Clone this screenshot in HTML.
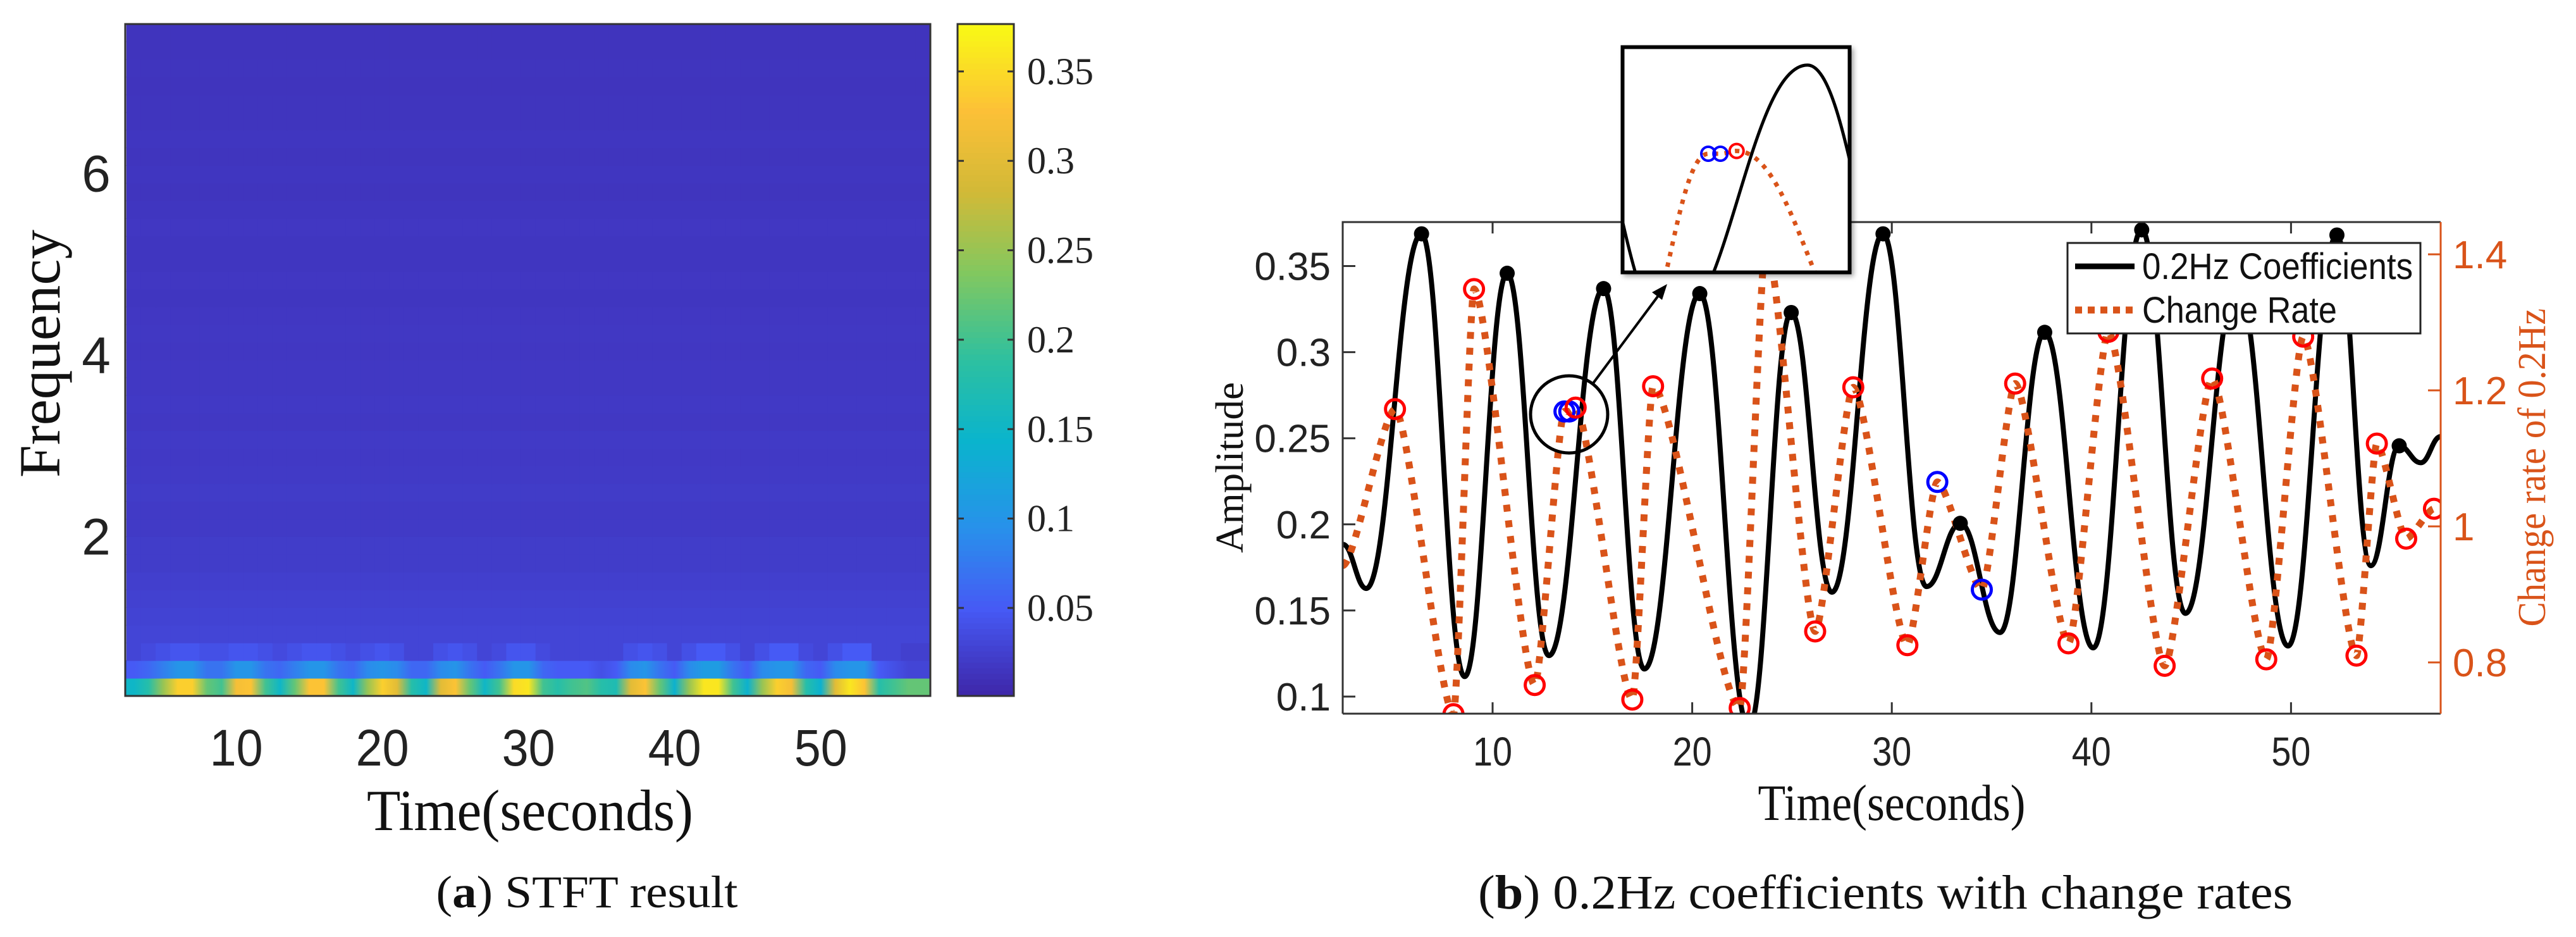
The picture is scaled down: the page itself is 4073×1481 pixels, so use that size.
<!DOCTYPE html>
<html><head><meta charset="utf-8">
<style>
html,body{margin:0;padding:0;background:#fff;}
svg{display:block;}
</style></head>
<body>
<svg id="fig" xmlns="http://www.w3.org/2000/svg" width="4073" height="1481" viewBox="0 0 4073 1481">
<defs id="defs">
<clipPath id="clipL"><rect x="198" y="38" width="1273" height="1062"/></clipPath>
<clipPath id="clipR"><rect x="2123" y="351" width="1736" height="777"/></clipPath>
<clipPath id="clipI"><rect x="2566" y="75" width="358" height="355"/></clipPath>
<filter id="shadow" x="-10%" y="-10%" width="130%" height="130%"><feDropShadow dx="4" dy="4" stdDeviation="4" flood-opacity="0.35"/></filter>
</defs>
<g id="left"></g>
<g id="right"></g>
</svg>
<script>
// ---------- Left chart data ----------
const times = [3,4,5,6,7,8,9,10,11,12,13,14,15,16,17,18,19,20,21,22,23,24,25,26,27,28,29,30,31,32,33,34,35,36,37,38,39,40,41,42,43,44,45,46,47,48,49,50,51,52,53,54,55,56,57];
const row0 = [0.15,0.18,0.25,0.34,0.34,0.22,0.2,0.32,0.33,0.2,0.15,0.22,0.33,0.33,0.2,0.15,0.25,0.34,0.3,0.18,0.15,0.3,0.33,0.22,0.15,0.2,0.35,0.36,0.2,0.18,0.2,0.21,0.18,0.17,0.3,0.33,0.22,0.14,0.25,0.36,0.36,0.2,0.14,0.25,0.34,0.32,0.18,0.14,0.3,0.36,0.33,0.18,0.2,0.22,0.22];
const row1 = [0.05,0.06,0.08,0.1,0.1,0.07,0.07,0.1,0.1,0.07,0.06,0.08,0.1,0.1,0.07,0.06,0.09,0.1,0.09,0.06,0.06,0.09,0.1,0.07,0.05,0.07,0.1,0.1,0.06,0.05,0.05,0.05,0.04,0.05,0.09,0.1,0.07,0.05,0.09,0.11,0.11,0.07,0.05,0.09,0.1,0.1,0.06,0.05,0.09,0.1,0.1,0.05,0.04,0.03,0.03];
const row2 = [0.03,0.035,0.04,0.045,0.045,0.04,0.04,0.045,0.045,0.04,0.035,0.04,0.045,0.045,0.04,0.035,0.04,0.045,0.04,0.03,0.03,0.04,0.045,0.04,0.03,0.035,0.045,0.045,0.035,0.03,0.03,0.03,0.03,0.03,0.04,0.045,0.04,0.03,0.04,0.05,0.05,0.04,0.03,0.04,0.05,0.05,0.035,0.03,0.04,0.05,0.05,0.03,0.03,0.025,0.025];
const rowBase = [0.03,0.028,0.026,0.024,0.022,0.022,0.02,0.02,0.021,0.02,0.019,0.02,0.018,0.019,0.018,0.018,0.017,0.018,0.017,0.016,0.017,0.016,0.016,0.017,0.016,0.015,0.016,0.015,0.016,0.015,0.015,0.014,0.015,0.014,0.014];
const freqTicks = [2,4,6];
const timeTicksL = [10,20,30,40,50];
const cbTicks = [0.05,0.1,0.15,0.2,0.25,0.3,0.35];
const cbTickLabels = ['0.05','0.1','0.15','0.2','0.25','0.3','0.35'];

// ---------- Right chart data ----------
const coefT = [2.5,3.67,6.44,8.6,10.73,12.82,15.56,17.6,20.38,22.84,24.96,27.0,29.56,31.74,33.43,35.42,37.66,40.09,42.52,44.71,47.3,49.85,52.3,54.0,55.42,56.5,57.5];
const coefV = [0.1884,0.1628,0.3687,0.1116,0.3458,0.1238,0.3369,0.116,0.334,0.082,0.323,0.1606,0.3687,0.1639,0.2006,0.1372,0.3115,0.1283,0.371,0.1483,0.34,0.1294,0.368,0.176,0.2456,0.2358,0.251];
const peakT = [6.44,10.73,15.56,20.38,24.96,29.56,33.43,37.66,42.52,52.3,55.42];
const peakV = [0.3687,0.3458,0.3369,0.334,0.323,0.3687,0.2006,0.3115,0.371,0.368,0.2456];
const rateT = [2.5,5.11,8.04,9.07,12.11,13.6,13.84,14.16,17.0,18.04,22.38,23.7,26.16,28.07,30.78,32.28,34.51,36.18,38.85,40.85,43.67,46.05,48.76,50.61,53.28,54.3,55.77,57.16];
const rateV = [0.9425,1.1724,0.724,1.349,0.7668,1.169,1.169,1.1747,0.7454,1.206,0.733,1.42,0.8456,1.2045,0.8253,1.0653,0.907,1.21,0.828,1.286,0.795,1.2175,0.8045,1.279,0.81,1.1217,0.982,1.0259];
const rateMark = ['none','red','red','red','red','blue','blue','red','red','red','red','red','red','red','red','blue','blue','red','red','red','red','red','red','red','red','red','red','red'];
const timeTicksR = [10,20,30,40,50];
const ampTicks = [0.1,0.15,0.2,0.25,0.3,0.35];
const ampTickLabels = ['0.1','0.15','0.2','0.25','0.3','0.35'];
const rateTicks = [0.8,1.0,1.2,1.4];
const rateTickLabels = ['0.8','1','1.2','1.4'];

const NS='http://www.w3.org/2000/svg';
function mk(tag, attrs, parent){const e=document.createElementNS(NS,tag);for(const k in attrs)e.setAttribute(k,attrs[k]);if(parent)parent.appendChild(e);return e;}

const stops=[[0,62,38,168],[0.13,70,90,245],[0.25,40,145,235],[0.38,10,180,205],[0.5,45,192,160],[0.63,130,200,95],[0.75,210,185,55],[0.87,252,192,55],[1,249,250,20]];
function parula(u){u=Math.max(0,Math.min(1,u));for(let i=1;i<stops.length;i++){if(u<=stops[i][0]){const a=stops[i-1],b=stops[i];const f=(u-a[0])/(b[0]-a[0]);return 'rgb('+Math.round(a[1]+f*(b[1]-a[1]))+','+Math.round(a[2]+f*(b[2]-a[2]))+','+Math.round(a[3]+f*(b[3]-a[3]))+')';}}return 'rgb(249,250,20)';}
const cMin=0.0008,cMax=0.3765;
const cmap=v=>parula((v-cMin)/(cMax-cMin));

// ---------- Left chart ----------
const L=document.getElementById('left');
const defs=document.getElementById('defs');
const xL=t=>198+(t-2.4)/(57.5-2.4)*1273;
const yF=f=>1100-(f-0.24)/(7.64-0.24)*1062;
const nRows=38, rowH=1062/nRows;
const hm=mk('g',{'clip-path':'url(#clipL)'},L);


const allRows=[row0,row1,row2];
for(let r=0;r<nRows;r++){
  if(r<2){
    // smooth shading along time for the low-frequency bands
    const gid='grad'+r;
    const gr=mk('linearGradient',{id:gid,gradientUnits:'userSpaceOnUse',x1:198,x2:1471,y1:0,y2:0},defs);
    times.forEach((t,c)=>{
      mk('stop',{offset:((xL(t)-198)/1273).toFixed(4),'stop-color':cmap(allRows[r][c])},gr);
    });
    const band=mk('rect',{x:198,y:1100-(r+1)*rowH-0.5,width:1273,height:rowH+1,fill:'url(#'+gid+')'},hm);
    
    
    continue;
  }
  for(let c=0;c<times.length;c++){
    const v = r<3 ? allRows[r][c] : rowBase[r-3];
    const x0=xL(times[c]-0.5)-0.5, x1=xL(times[c]+0.5)+0.5;
    const cell=mk('rect',{x:x0,y:1100-(r+1)*rowH-0.5,width:x1-x0,height:rowH+1,fill:cmap(v)},hm);
    
    
  }
}
const lb=mk('rect',{x:198,y:38,width:1273,height:1062,fill:'none',stroke:'#333',"stroke-width":3},L);


freqTicks.forEach(f=>{
  const t=mk('text',{x:152,y:yF(f)+29,'font-family':'Liberation Sans, sans-serif','font-size':82,'text-anchor':'middle',fill:'#222'},L);
  t.textContent=String(f);
  
  
});
timeTicksL.forEach(s=>{
  const t=mk('text',{x:xL(s),y:1210,'font-family':'Liberation Sans, sans-serif','font-size':82,'text-anchor':'middle',textLength:84,lengthAdjust:'spacingAndGlyphs',fill:'#222'},L);
  t.textContent=String(s);
  
  
});
let tt=mk('text',{x:0,y:0,transform:'translate(94,559) rotate(-90)','font-family':'Liberation Serif, serif','font-size':92,'text-anchor':'middle',textLength:392,lengthAdjust:'spacingAndGlyphs',fill:'#111'},L);
tt.textContent='Frequency';


tt=mk('text',{x:838,y:1312,'font-family':'Liberation Serif, serif','font-size':92,'text-anchor':'middle',textLength:516,lengthAdjust:'spacingAndGlyphs',fill:'#111'},L);
tt.textContent='Time(seconds)';


const cb=mk('g',{},L);


const cbY=v=>1100-(v-cMin)/(cMax-cMin)*1062;
for(let i=0;i<120;i++){
  const v0=cMin+(cMax-cMin)*i/120, v1=cMin+(cMax-cMin)*(i+1)/120;
  mk('rect',{x:1514,y:cbY(v1)-0.5,width:89,height:cbY(v0)-cbY(v1)+1,fill:cmap((v0+v1)/2)},cb);
}
mk('rect',{x:1514,y:38,width:89,height:1062,fill:'none',stroke:'#333','stroke-width':3},cb);
cbTicks.forEach((v,i)=>{
  mk('line',{x1:1514,x2:1524,y1:cbY(v),y2:cbY(v),stroke:'#333','stroke-width':3},cb);
  mk('line',{x1:1593,x2:1603,y1:cbY(v),y2:cbY(v),stroke:'#333','stroke-width':3},cb);
  const t=mk('text',{x:1624,y:cbY(v)+20,'font-family':'Liberation Serif, serif','font-size':60,fill:'#222'},cb);
  t.textContent=cbTickLabels[i];
  
  
});
tt=mk('text',{x:928,y:1434,'font-family':'Liberation Serif, serif','font-size':72,'text-anchor':'middle',textLength:477,lengthAdjust:'spacingAndGlyphs',fill:'#111'},L);
tt.innerHTML='(<tspan font-weight="bold">a</tspan>) STFT result';



// ---------- Right chart ----------
const R=document.getElementById('right');
const xR=t=>2123.3+(t-2.5)*31.56;
const yA=v=>1101-(v-0.1)*2722;
const yC=v=>1047-(v-0.8)*1075;
function smoothPath(T,V,fy,k){
  let d='M'+xR(T[0]).toFixed(1)+','+fy(V[0]).toFixed(1);
  for(let i=1;i<T.length;i++){
    const x0=xR(T[i-1]),y0=fy(V[i-1]),x1=xR(T[i]),y1=fy(V[i]);const dx=x1-x0;
    d+=' C'+(x0+dx*k).toFixed(1)+','+y0.toFixed(1)+' '+(x1-dx*k).toFixed(1)+','+y1.toFixed(1)+' '+x1.toFixed(1)+','+y1.toFixed(1);
  }
  return d;
}
const coefD=smoothPath(coefT,coefV,yA,0.42);
const rateD=smoothPath(rateT,rateV,yC,0.22);
const plot=mk('g',{'clip-path':'url(#clipR)'},R);


const cl=mk('path',{d:coefD,fill:'none',stroke:'#000','stroke-width':8,'stroke-linejoin':'round'},plot);


const rl=mk('path',{d:rateD,fill:'none',stroke:'#D95319','stroke-width':11,'stroke-dasharray':'11 14'},plot);


peakT.forEach((t,i)=>{
  const c=mk('circle',{cx:xR(t),cy:yA(peakV[i]),r:12,fill:'#000'},plot);
  
  
});
rateT.forEach((t,i)=>{
  if(rateMark[i]==='none')return;
  const c=mk('circle',{cx:xR(t),cy:yC(rateV[i]),r:15,fill:'none',stroke:rateMark[i]==='blue'?'#0000ff':'#ff0000','stroke-width':5},plot);
  
  
});
const ax=mk('g',{},R);


mk('path',{d:'M2123,1128 L2123,351 L3859,351',fill:'none',stroke:'#333','stroke-width':3},ax);
mk('line',{x1:2123,x2:3859,y1:1128,y2:1128,stroke:'#333','stroke-width':3},ax);
mk('line',{x1:3859,x2:3859,y1:351,y2:1128,stroke:'#D95319','stroke-width':3},ax);
timeTicksR.forEach(s=>{
  mk('line',{x1:xR(s),x2:xR(s),y1:1128,y2:1110,stroke:'#333','stroke-width':3},ax);
  mk('line',{x1:xR(s),x2:xR(s),y1:351,y2:369,stroke:'#333','stroke-width':3},ax);
  const t=mk('text',{x:xR(s),y:1210,'font-family':'Liberation Sans, sans-serif','font-size':64,'text-anchor':'middle',fill:'#222',textLength:62,lengthAdjust:'spacingAndGlyphs'},ax);
  t.textContent=String(s);
  
  
});
ampTicks.forEach((v,i)=>{
  mk('line',{x1:2123,x2:2143,y1:yA(v),y2:yA(v),stroke:'#333','stroke-width':3},ax);
  const t=mk('text',{x:2104,y:yA(v)+22,'font-family':'Liberation Sans, sans-serif','font-size':62,'text-anchor':'end',fill:'#222'},ax);
  t.textContent=ampTickLabels[i];
  
  
});
rateTicks.forEach((v,i)=>{
  mk('line',{x1:3839,x2:3859,y1:yC(v),y2:yC(v),stroke:'#D95319','stroke-width':3},ax);
  const t=mk('text',{x:3878,y:yC(v)+22,'font-family':'Liberation Sans, sans-serif','font-size':62,fill:'#D95319'},ax);
  t.textContent=rateTickLabels[i];
  
  
});
tt=mk('text',{x:0,y:0,transform:'translate(1965,739) rotate(-90)','font-family':'Liberation Serif, serif','font-size':62,'text-anchor':'middle',textLength:270,lengthAdjust:'spacingAndGlyphs',fill:'#111'},R);
tt.textContent='Amplitude';


tt=mk('text',{x:0,y:0,transform:'translate(4024,739) rotate(-90)','font-family':'Liberation Serif, serif','font-size':62,'text-anchor':'middle',textLength:503,lengthAdjust:'spacingAndGlyphs',fill:'#D95319'},R);
tt.textContent='Change rate of 0.2Hz';


tt=mk('text',{x:2991,y:1296,'font-family':'Liberation Serif, serif','font-size':80,'text-anchor':'middle',textLength:423,lengthAdjust:'spacingAndGlyphs',fill:'#111'},R);
tt.textContent='Time(seconds)';


tt=mk('text',{x:2981,y:1436,'font-family':'Liberation Serif, serif','font-size':76,'text-anchor':'middle',textLength:1288,lengthAdjust:'spacingAndGlyphs',fill:'#111'},R);
tt.innerHTML='(<tspan font-weight="bold">b</tspan>) 0.2Hz coefficients with change rates';



const mg=mk('circle',{cx:2481,cy:655,r:61,fill:'none',stroke:'#000','stroke-width':5},R);


const ar=mk('line',{x1:2518,y1:607,x2:2626,y2:462,stroke:'#000','stroke-width':4},R);


const ah=mk('polygon',{points:'2636,449 2612,462 2628,474',fill:'#000'},R);



const inset=mk('g',{},R);


mk('rect',{x:2563,y:72,width:364,height:361,fill:'#fff',filter:'url(#shadow)'},inset);
const ic=mk('g',{'clip-path':'url(#clipI)'},inset);
const sx=2.535, sy=0.722, ax0=xR(13.6), ay0=yC(1.169), ix0=2701, iy0=243;
const tf='matrix('+sx+',0,0,'+sy+','+(ix0-sx*ax0)+','+(iy0-sy*ay0)+')';
const g2=mk('g',{transform:tf},ic);
mk('path',{d:coefD,fill:'none',stroke:'#000','stroke-width':5,'vector-effect':'non-scaling-stroke'},g2);
mk('path',{d:smoothPath(rateT,rateV,yC,0.42),fill:'none',stroke:'#D95319','stroke-width':7,'stroke-dasharray':'7 10','vector-effect':'non-scaling-stroke'},g2);
rateT.forEach((t,i)=>{
  if(rateMark[i]==='none')return;
  const px=ix0+sx*(xR(t)-ax0), py=iy0+sy*(yC(rateV[i])-ay0);
  const c=mk('circle',{cx:px,cy:py,r:11,fill:'none',stroke:rateMark[i]==='blue'?'#0000ff':'#ff0000','stroke-width':4},ic);
  
  
});
mk('rect',{x:2565.5,y:74.5,width:359,height:356,fill:'none',stroke:'#000','stroke-width':6},inset);

const lg=mk('g',{},R);


mk('rect',{x:3269,y:384,width:558,height:143,fill:'#fff',stroke:'#222','stroke-width':3},lg);
mk('line',{x1:3281,x2:3375,y1:421,y2:421,stroke:'#000','stroke-width':9},lg);
mk('line',{x1:3281,x2:3375,y1:490,y2:490,stroke:'#D95319','stroke-width':11,'stroke-dasharray':'11 9'},lg);
let le=mk('text',{x:3387,y:441,'font-family':'Liberation Sans, sans-serif','font-size':58,textLength:428,lengthAdjust:'spacingAndGlyphs',fill:'#111'},lg);
le.textContent='0.2Hz Coefficients';


le=mk('text',{x:3387,y:510,'font-family':'Liberation Sans, sans-serif','font-size':58,textLength:308,lengthAdjust:'spacingAndGlyphs',fill:'#111'},lg);
le.textContent='Change Rate';


</script>
</body></html>
